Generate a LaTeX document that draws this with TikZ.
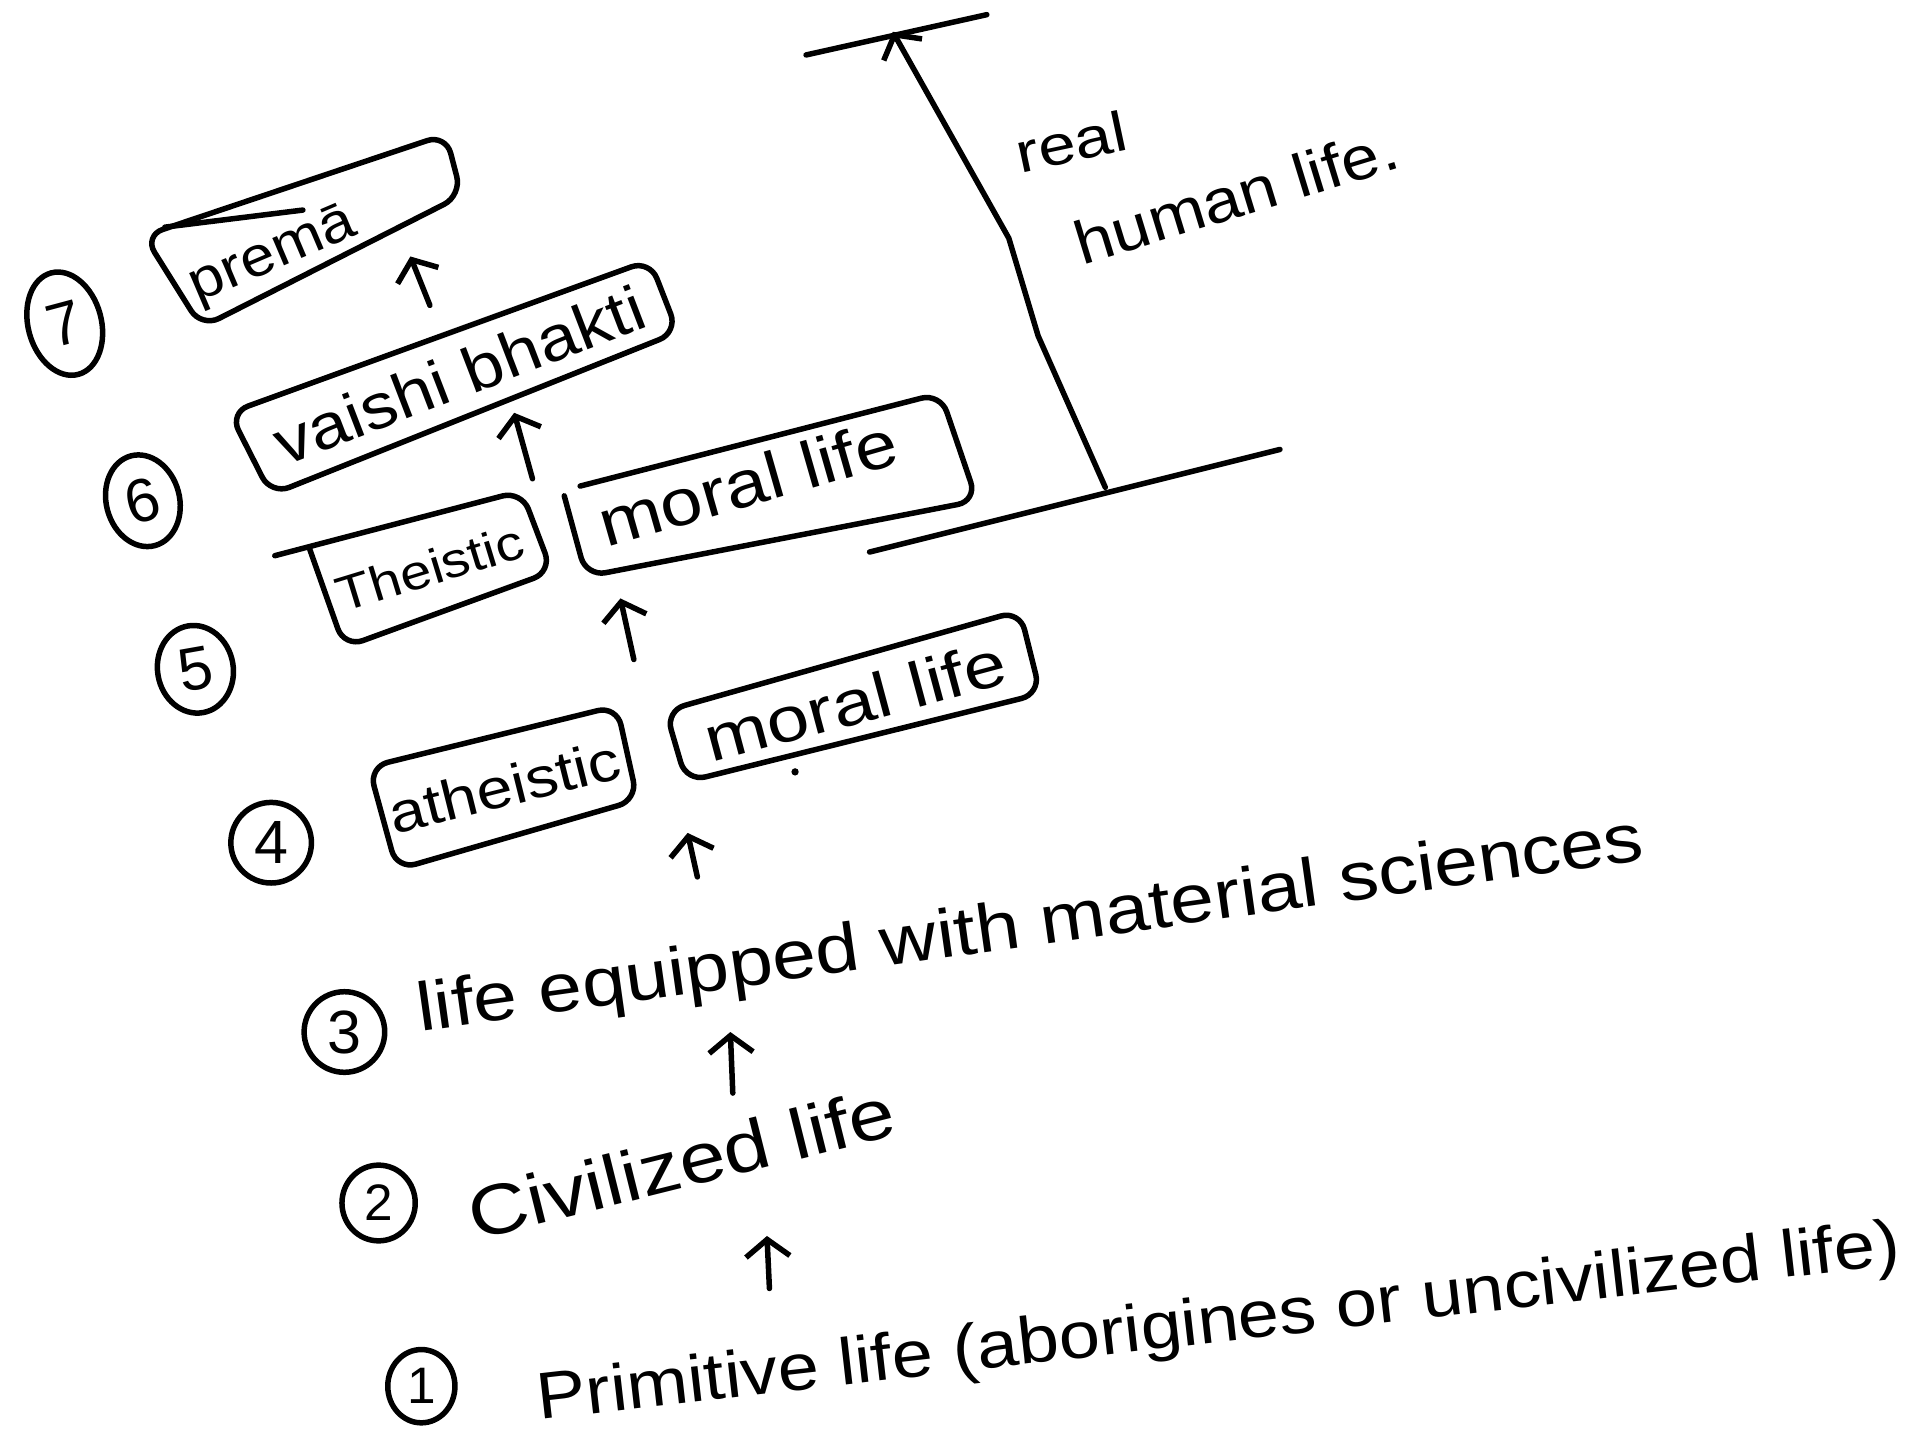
\documentclass[tikz,border=0pt]{standalone}
\usepackage{fontspec}
\setmainfont{Liberation Sans}
\usetikzlibrary{arrows.meta,shapes.geometric}
\begin{document}
\begin{tikzpicture}[x=1pt,y=-1pt,
  ink/.style={draw=black, line width=4.5pt, line cap=round, line join=round},
  boxline/.style={ink, rounded corners=16pt},
  num/.style={draw, ellipse, line width=4.5pt, inner sep=0pt, font=\fontsize{50}{50}\selectfont},
  hw/.style={inner sep=0pt, anchor=center},
  up/.style={ink, -{Straight Barb[length=14pt,width=36pt]}},
  fs/.style={font=\fontsize{#1}{#1}\selectfont},
]
\useasboundingbox (0,0) rectangle (1568,1178);

% ---- level numbers ----
\node[num, minimum width=60pt, minimum height=86pt, rotate=15] (c7) at (53,265) {7};
\node[num, minimum width=60pt, minimum height=76pt, rotate=15] (c6) at (117,410) {6};
\node[num, minimum width=62pt, minimum height=72pt, rotate=10] (c5) at (160,548) {5};
\node[num, minimum width=66pt, minimum height=66pt] (c4) at (222,690) {4};
\node[num, minimum width=66pt, minimum height=66pt] (c3) at (282,845) {3};
\node[num, minimum width=60pt, minimum height=62pt, fs=42] (c2) at (310,985) {2};
\node[num, minimum width=55pt, minimum height=60pt, fs=42] (c1) at (345,1135) {1};

% ---- boxes ----
\draw[boxline] (118,193) -- (365,110) -- (378,160) -- (165,268) -- cycle;
\draw[ink] (135,186) -- (248,172);
\draw[boxline] (188,338) -- (532,213) -- (555,272) -- (222,405) -- cycle;
\draw[boxline] (225,455) -- (427,402) -- (452,468) -- (282,530) -- (253,448);
\draw[boxline] (462,406) -- (480,472) -- (800,410) -- (770,322) -- (475,398);
\draw[boxline] (302,628) -- (505,578) -- (522,655) -- (325,712) -- cycle;
\draw[boxline] (545,582) -- (835,500) -- (852,568) -- (562,640) -- cycle;
\fill (651,632) circle (3pt);

% ---- texts ----
\node[hw, fs=46, rotate=23, xscale=1.1] (t7) at (224,210) {premā};
\node[hw, fs=52, rotate=21, xscale=1.12] (t6) at (376,307) {vaishi bhakti};
\node[hw, fs=40, rotate=17, xscale=1.15] (t5a) at (352,465) {Theistic};
\node[hw, fs=54, rotate=16, xscale=1.15] (t5b) at (612,395) {moral life};
\node[hw, fs=46, rotate=14, xscale=1.15] (t4a) at (413,644) {atheistic};
\node[hw, fs=52, rotate=15, xscale=1.2] (t4b) at (700,574) {moral life};
\node[hw, fs=56, rotate=8, xscale=1.15] (t3) at (844,760) {life equipped with material sciences};
\node[hw, fs=58, rotate=14, xscale=1.17] (t2) at (558,952) {Civilized life};
\node[hw, fs=54, rotate=6.5, xscale=1.12] (t1) at (998,1085) {Primitive life (aborigines or uncivilized life)};
\node[hw, fs=46, rotate=12, xscale=1.2] (tr1) at (877,116) {real};
\node[hw, fs=50, rotate=17, xscale=1.12] (tr2) at (1012,160) {human life.};

% ---- upward arrows ----
\coordinate (a7s) at (352,250); \coordinate (a7e) at (336,210);
\coordinate (a6s) at (436,392); \coordinate (a6e) at (421,338);
\coordinate (a5s) at (519,540); \coordinate (a5e) at (508,490);
\coordinate (a4s) at (571,718); \coordinate (a4e) at (563,682);
\coordinate (a3s) at (600,895); \coordinate (a3e) at (598,845);
\coordinate (a2s) at (630,1055); \coordinate (a2e) at (628,1012);
\draw[up] (a7s) -- (a7e);
\draw[up] (a6s) -- (a6e);
\draw[up] (a5s) -- (a5e);
\draw[up] (a4s) -- (a4e);
\draw[up] (a3s) -- (a3e);
\draw[up] (a2s) -- (a2e);

% ---- real human life range ----
\coordinate (baseL) at (712,452); \coordinate (baseR) at (1048,368);
\coordinate (topL) at (660,45); \coordinate (topR) at (808,12);
\coordinate (rs) at (905,399); \coordinate (re) at (731,26);
\draw[ink] (baseL) -- (baseR);
\draw[ink] (topL) -- (topR);
\draw[up] (rs) -- (850,275) -- (826,195) -- (re);
\end{tikzpicture}
\end{document}
